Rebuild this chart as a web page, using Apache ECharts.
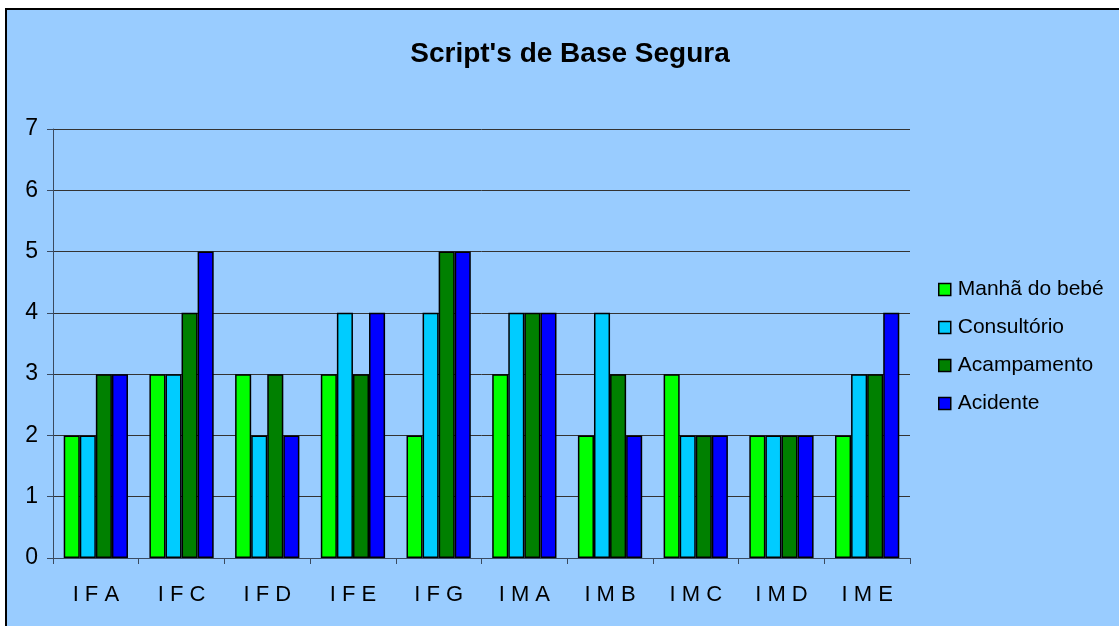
<!DOCTYPE html>
<html>
<head>
    <meta charset="utf-8">
    <title>Script's de Base Segura</title>
    <script src="https://cdn.jsdelivr.net/npm/echarts@6/dist/echarts.min.js"></script>
    <style>
        body { margin: 0; background: #fff; }
    </style>
</head>
<body>
<div id="main" style="width: 1119px; height: 626px;"></div>
<script type="text/javascript">
    var myChart = echarts.init(document.getElementById('main'));

    // data
    var categories = ['I F A', 'I F C', 'I F D', 'I F E', 'I F G', 'I M A', 'I M B', 'I M C', 'I M D', 'I M E'];
    var manhaDoBebe = [2, 3, 3, 3, 2, 3, 2, 3, 2, 2];
    var consultorio = [2, 3, 2, 4, 4, 4, 4, 2, 2, 3];
    var acampamento = [3, 4, 3, 3, 5, 4, 3, 2, 2, 3];
    var acidente = [3, 5, 2, 4, 5, 4, 2, 2, 2, 4];
    var yTicks = [0, 1, 2, 3, 4, 5, 6, 7];

    var seriesNames = ['Manhã do bebé', 'Consultório', 'Acampamento', 'Acidente'];
    var seriesValues = [manhaDoBebe, consultorio, acampamento, acidente];
    var colors = ['#00FF00', '#00CCFF', '#008000', '#0000FF'];

    var seriesdata = [];
    for (var i = 0; i < seriesNames.length; i++) {
        seriesdata.push({
            name: seriesNames[i],
            type: 'bar',
            data: seriesValues[i],
            barGap: '0%',
            barCategoryGap: '25%',
            itemStyle: {
                color: colors[i],
                borderColor: '#000',
                borderWidth: 1.5
            }
        });
    }

    var option = {
        animation: false,
        backgroundColor: '#fff',
        textStyle: { fontFamily: 'Liberation Sans, Arial, sans-serif' },
        graphic: [
            {
                type: 'rect',
                z: -10,
                shape: { x: 6, y: 9, width: 1130, height: 640 },
                style: { fill: '#99CCFF', stroke: '#000', lineWidth: 2 }
            }
        ],
        title: {
            text: "Script's de Base Segura",
            left: 565,
            top: 35,
            textAlign: 'center',
            textStyle: { fontSize: 28, fontWeight: 'bold', color: '#000' }
        },
        legend: {
            data: seriesNames,
            orient: 'vertical',
            left: 933,
            top: 274,
            itemWidth: 12,
            itemHeight: 12,
            itemGap: 17,
            icon: 'rect',
            itemStyle: { borderColor: '#000', borderWidth: 1.5 },
            textStyle: { fontSize: 21, color: '#000', padding: [0, 0, 0, 2] }
        },
        grid: {
            left: 53,
            right: 209,
            top: 129,
            bottom: 68,
            containLabel: false
        },
        xAxis: {
            type: 'category',
            data: categories,
            axisLine: { lineStyle: { color: '#3a4a60', width: 1 } },
            axisTick: { show: true, length: 6, inside: false, lineStyle: { color: '#3a4a60' } },
            axisLabel: { fontSize: 22, color: '#000', margin: 26 }
        },
        yAxis: {
            type: 'value',
            min: yTicks[0],
            max: yTicks[yTicks.length - 1],
            interval: 1,
            axisLine: { show: true, lineStyle: { color: '#3a4a60', width: 1 } },
            axisTick: { show: true, length: 6, lineStyle: { color: '#3a4a60' } },
            axisLabel: { fontSize: 23, color: '#000', margin: 15 },
            splitLine: { show: true, lineStyle: { color: '#333', width: 1 } }
        },
        series: seriesdata
    };

    myChart.setOption(option);
</script>
</body>
</html>
